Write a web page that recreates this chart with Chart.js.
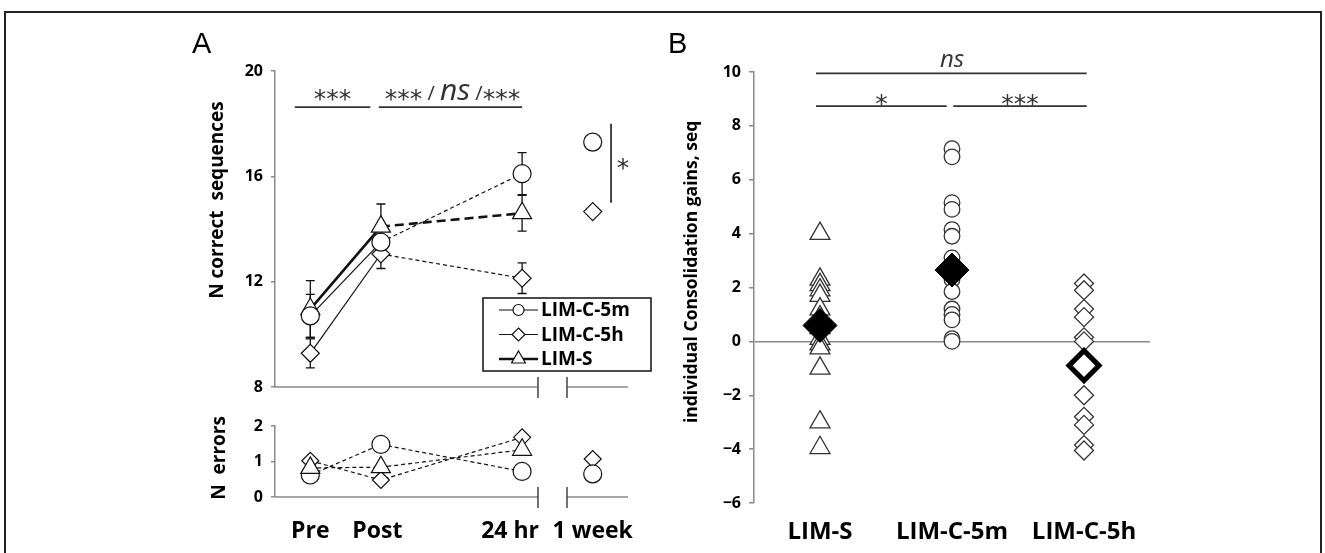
<!DOCTYPE html>
<html><head><meta charset="utf-8">
<script src="https://cdn.jsdelivr.net/npm/chart.js@4.4.1/dist/chart.umd.min.js"></script>
<style>
html,body{margin:0;padding:0;background:#fff;}
#wrap{position:relative;width:1325px;height:553px;overflow:hidden;background:#fff;}
#wrap canvas{position:absolute;left:0;top:0;}
#frame{position:absolute;left:4px;top:11px;width:1318px;height:560px;border:2px solid #222;box-sizing:border-box;}
</style></head><body>
<div id="wrap">
<div id="frame"></div>
<canvas id="cA" width="1325" height="553"></canvas>
<canvas id="cE" width="1325" height="553"></canvas>
<canvas id="cB" width="1325" height="553"></canvas>
</div>
<script>
// ---------------- DATA ----------------
const timepoints = ['Pre', 'Post', '24 hr', '1 week'];
const timeX = [1, 2, 4, 5];
const timeLabelX = [1, 1.95, 3.83, 5];
// Panel A top: N correct sequences (Pre, Post, 24 hr)
const seqC5m = [10.7, 13.5, 16.1];
const seqC5h = [9.28, 13.05, 12.13];
const seqS   = [10.96, 14.09, 14.6];
const seqSemC5m = [0.82, 0.6, 0.8];
const seqSemC5h = [0.55, 0.55, 0.58];
const seqSemS   = [1.08, 0.86, 0.68];
const weekSeqC5m = [17.3];
const weekSeqC5h = [14.66];
// Panel A bottom: N errors
const errC5m = [0.62, 1.48, 0.72];
const errC5h = [1.02, 0.48, 1.68];
const errS   = [0.82, 0.84, 1.33];
const weekErrC5m = [0.65];
const weekErrC5h = [1.07];
// Panel B: individual consolidation gains
const groups = ['LIM-S', 'LIM-C-5m', 'LIM-C-5h'];
const gainsS   = [4.0, 2.3, 2.1, 1.9, 1.7, 1.2, 0.9, 0.5, 0.1, -0.1, -0.25, -1.0, -3.0, -3.95];
const gainsC5m = [7.15, 6.85, 5.15, 4.9, 4.15, 3.9, 3.1, 2.3, 1.85, 1.2, 1.0, 0.8, 0.1, 0.0];
const gainsC5h = [2.15, 1.9, 1.2, 0.9, 0.15, 0.0, -2.0, -2.8, -3.1, -3.85, -4.05];
const meanGains = [0.59, 2.65, -0.9];

// ---------------- STYLE ----------------
const FONT = "'Open Sans', sans-serif";
const GRAY = '#8a8a8a';
const INK = '#111';
const MK = '#333';

function yAxis(min, max, step, width, extra) {
  return Object.assign({
    min, max,
    ticks: {stepSize: step, color: '#000', font: {family: FONT, size: 16, weight: 'bold'}, padding: 8},
    grid: {drawOnChartArea: false, drawTicks: true, tickLength: 4, color: GRAY, tickColor: GRAY, lineWidth: 1.5},
    border: {display: true, color: GRAY, width: 1.5},
    title: {display: false},
    afterFit: s => { s.width = width; }
  }, extra || {});
}

// rotated axis title drawn at a scale value
function axisTitle(text, px, value, size) {
  return {
    id: 'title_' + text.replace(/\W/g, ''),
    afterDraw(chart) {
      const {ctx, scales: {y}} = chart;
      ctx.save();
      ctx.translate(px, y.getPixelForValue(value));
      ctx.rotate(-Math.PI / 2);
      ctx.fillStyle = '#000'; ctx.textAlign = 'center'; ctx.textBaseline = 'middle';
      ctx.font = 'bold ' + size + 'px ' + FONT;
      ctx.fillText(text, 0, 0);
      ctx.restore();
    }
  };
}

function markPath(ctx, style, x, y, r) {
  ctx.beginPath();
  if (style === 'circle') ctx.arc(x, y, r, 0, Math.PI * 2);
  else if (style === 'rectRot') { ctx.moveTo(x, y - r); ctx.lineTo(x + r, y); ctx.lineTo(x, y + r); ctx.lineTo(x - r, y); ctx.closePath(); }
  else if (style === 'triangle') { const h = r * 0.866; ctx.moveTo(x, y - r); ctx.lineTo(x + h, y + r / 2); ctx.lineTo(x - h, y + r / 2); ctx.closePath(); }
}

// broken x axis
const brokenAxis = {
  id: 'brokenAxis',
  afterDraw(chart) {
    const {ctx, chartArea: ca, scales: {x}} = chart;
    const b1 = x.getPixelForValue(4.225), b2 = x.getPixelForValue(4.636);
    const yb = ca.bottom;
    ctx.save();
    ctx.strokeStyle = GRAY; ctx.lineWidth = 1.5;
    ctx.beginPath(); ctx.moveTo(ca.left, yb); ctx.lineTo(b1, yb); ctx.moveTo(b2, yb); ctx.lineTo(ca.right, yb); ctx.stroke();
    ctx.strokeStyle = '#444'; ctx.lineWidth = 1.5;
    ctx.beginPath(); ctx.moveTo(b1, yb - 10); ctx.lineTo(b1, yb + 11); ctx.moveTo(b2, yb - 10); ctx.lineTo(b2, yb + 11); ctx.stroke();
    ctx.restore();
  }
};

// error bars (panel A top)
const errorBars = {
  id: 'errorBars',
  beforeDatasetsDraw(chart) {
    const {ctx, scales: {x, y}} = chart;
    const sets = [[seqC5m, seqSemC5m], [seqC5h, seqSemC5h], [seqS, seqSemS]];
    ctx.save(); ctx.strokeStyle = INK; ctx.lineWidth = 1.3;
    sets.forEach(([m, e]) => m.forEach((v, i) => {
      const px = x.getPixelForValue(timeX[i]);
      const t = y.getPixelForValue(v + e[i]), b = y.getPixelForValue(v - e[i]);
      ctx.beginPath();
      ctx.moveTo(px, t); ctx.lineTo(px, b);
      ctx.moveTo(px - 4.5, t); ctx.lineTo(px + 4.5, t);
      ctx.moveTo(px - 4.5, b); ctx.lineTo(px + 4.5, b);
      ctx.stroke();
    }));
    ctx.restore();
  }
};

function drawMixed(ctx, pieces, cx, baseline) {
  let total = 0;
  pieces.forEach(p => { ctx.font = p.font; p.w = ctx.measureText(p.t).width; total += p.w; });
  let x = cx - total / 2;
  pieces.forEach(p => { ctx.font = p.font; ctx.fillText(p.t, x, baseline + (p.dy || 0)); x += p.w; });
}

const STAR = "25px 'DejaVu Sans', sans-serif";
const SLASH = "20px " + FONT;

// annotations panel A
const annotA = {
  id: 'annotA',
  afterDraw(chart) {
    const {ctx, scales: {x, y}} = chart;
    ctx.save();
    ctx.fillStyle = '#000'; ctx.textBaseline = 'alphabetic'; ctx.textAlign = 'left';
    ctx.font = "29px 'Liberation Sans', Arial, sans-serif";
    ctx.fillText('A', 192, 53);
    // significance bars
    ctx.strokeStyle = '#333'; ctx.lineWidth = 1.8;
    const ly = y.getPixelForValue(18.63);
    ctx.beginPath();
    ctx.moveTo(x.getPixelForValue(0.78), ly); ctx.lineTo(x.getPixelForValue(1.85), ly);
    ctx.moveTo(x.getPixelForValue(1.97), ly); ctx.lineTo(x.getPixelForValue(4.0), ly);
    ctx.moveTo(x.getPixelForValue(5.26), y.getPixelForValue(18.0)); ctx.lineTo(x.getPixelForValue(5.26), y.getPixelForValue(15.0));
    ctx.stroke();
    ctx.fillStyle = '#333';
    const nsF = "italic 30px " + FONT;
    drawMixed(ctx, [{t: '***', font: STAR, dy: 8}], (x.getPixelForValue(0.78) + x.getPixelForValue(1.85)) / 2, ly - 8);
    drawMixed(ctx, [{t: '***', font: STAR, dy: 7}, {t: ' / ', font: SLASH}, {t: 'ns', font: nsF}, {t: ' /', font: SLASH}, {t: '***', font: STAR, dy: 7}],
      (x.getPixelForValue(1.97) + x.getPixelForValue(4.0)) / 2 + 2, ly - 7);
    drawMixed(ctx, [{t: '*', font: STAR}], x.getPixelForValue(5.26) + 12, y.getPixelForValue(16.55) + 14);
    // legend
    const x0 = 483, y0 = 298, w = 168, h = 73;
    ctx.fillStyle = '#fff'; ctx.fillRect(x0, y0, w, h);
    ctx.strokeStyle = INK; ctx.lineWidth = 1.5; ctx.strokeRect(x0, y0, w, h);
    const items = chart.data.datasets.filter(d => d.legend);
    items.forEach((d, i) => {
      const cy = y0 + 12 + i * 24.5;
      ctx.strokeStyle = INK; ctx.lineWidth = d.borderWidth;
      ctx.beginPath(); ctx.moveTo(499, cy); ctx.lineTo(538, cy); ctx.stroke();
      ctx.fillStyle = '#fff'; ctx.lineWidth = 1.2; ctx.strokeStyle = INK;
      markPath(ctx, d.pointStyle, 518.5, cy, d.pointStyle === 'triangle' ? 8 : (d.pointStyle === 'circle' ? 5.5 : 6.5));
      ctx.fill(); ctx.stroke();
      ctx.fillStyle = '#000'; ctx.font = "bold 19px " + FONT; ctx.textBaseline = 'middle';
      ctx.fillText(d.label, 541, cy + 1);
    });
    ctx.restore();
  }
};

// annotations panel B
const annotB = {
  id: 'annotB',
  afterDraw(chart) {
    const {ctx, scales: {x, y}} = chart;
    ctx.save();
    ctx.fillStyle = '#000'; ctx.textBaseline = 'alphabetic'; ctx.textAlign = 'left';
    ctx.font = "29px 'Liberation Sans', Arial, sans-serif";
    ctx.fillText('B', 668, 53);
    ctx.strokeStyle = '#333'; ctx.lineWidth = 1.8;
    const y1 = y.getPixelForValue(9.95), y2 = y.getPixelForValue(8.73);
    const a = x.getPixelForValue(-0.03), bL = x.getPixelForValue(0.96), bR = x.getPixelForValue(1.01), c = x.getPixelForValue(2.02);
    ctx.beginPath();
    ctx.moveTo(a, y1); ctx.lineTo(c, y1);
    ctx.moveTo(a, y2); ctx.lineTo(bL, y2);
    ctx.moveTo(bR, y2); ctx.lineTo(c, y2);
    ctx.stroke();
    ctx.fillStyle = '#333';
    drawMixed(ctx, [{t: 'ns', font: "italic 24px " + FONT}], x.getPixelForValue(1), y1 - 6);
    drawMixed(ctx, [{t: '*', font: STAR}], (a + bL) / 2, y2 + 6);
    drawMixed(ctx, [{t: '***', font: STAR}], (bR + c) / 2, y2 + 6);
    ctx.restore();
  }
};

const common = {
  responsive: false, animation: false, events: [], devicePixelRatio: 1,
  plugins: {legend: {display: false}, tooltip: {enabled: false}}
};

function lineSet(label, data, style, r, width, dash, legend) {
  return {
    label, legend, data: data.map((v, i) => ({x: timeX[i], y: v})),
    showLine: true, borderColor: INK, borderWidth: width,
    pointStyle: style, pointRadius: r, pointBorderWidth: 1.2, pointBorderColor: INK, pointBackgroundColor: '#fff',
    segment: {borderDash: ctx => ctx.p0DataIndex >= 1 ? dash : []},
    clip: false
  };
}
function weekSet(data, style, r) {
  return {data: data.map(v => ({x: timeX[3], y: v})), showLine: false, pointStyle: style, pointRadius: r,
    pointBorderWidth: 1.2, pointBorderColor: INK, pointBackgroundColor: '#fff', clip: false};
}

// ---------- Panel A top ----------
new Chart(document.getElementById('cA'), {
  type: 'scatter',
  data: {datasets: [
    lineSet('LIM-C-5m', seqC5m, 'circle', 9, 1.2, [4, 3], true),
    lineSet('LIM-C-5h', seqC5h, 'rectRot', 9, 1.2, [4, 3], true),
    lineSet('LIM-S', seqS, 'triangle', 11, 2.6, [9, 5], true),
    weekSet(weekSeqC5m, 'circle', 9),
    weekSet(weekSeqC5h, 'rectRot', 9)
  ]},
  options: Object.assign({}, common, {
    layout: {padding: {left: 200, top: 71, right: 697, bottom: 166}},
    scales: {
      x: {type: 'linear', min: 0.5, max: 5.5, display: false},
      y: yAxis(8, 20, 4, 75)
    }
  }),
  plugins: [errorBars, brokenAxis, annotA, axisTitle('N correct  sequences', 218, 15.1, 19)]
});

// ---------- Panel A bottom (errors) ----------
function errSet(data, style, r) {
  const d = lineSet('', data, style, r, 1.2, [4, 3], false);
  d.segment = {borderDash: [4, 3]};
  return d;
}
new Chart(document.getElementById('cE'), {
  type: 'scatter',
  data: {datasets: [
    errSet(errS, 'triangle', 11),
    errSet(errC5h, 'rectRot', 8.5),
    errSet(errC5m, 'circle', 9),
    weekSet(weekErrC5m, 'circle', 9),
    weekSet(weekErrC5h, 'rectRot', 8.5)
  ]},
  options: Object.assign({}, common, {
    layout: {padding: {left: 200, top: 426, right: 697, bottom: 0}},
    scales: {
      x: {
        type: 'linear', min: 0.5, max: 5.5,
        afterBuildTicks: s => { s.ticks = timeLabelX.map(v => ({value: v})); },
        afterFit: s => { s.height = 56; },
        ticks: {autoSkip: false, maxRotation: 0, minRotation: 0, color: '#000', padding: 21,
          font: {family: FONT, size: 23, weight: 'bold'},
          callback: (v, i) => timepoints[i]},
        grid: {display: false, drawTicks: false},
        border: {display: false}
      },
      y: yAxis(0, 2, 1, 75)
    }
  }),
  plugins: [brokenAxis, axisTitle('N  errors', 220, 1.1, 19)]
});

// ---------- Panel B ----------
function gainSet(vals, gi, style, r) {
  return {data: vals.map(v => ({x: groups[gi], y: v})), showLine: false, pointStyle: style, pointRadius: r,
    pointBorderWidth: 1.3, pointBorderColor: MK, pointBackgroundColor: '#fff', order: 1};
}
new Chart(document.getElementById('cB'), {
  type: 'line',
  data: {labels: groups, datasets: [
    {data: [{x: groups[0], y: meanGains[0]}, {x: groups[1], y: meanGains[1]}], showLine: false, pointStyle: 'rectRot',
      pointRadius: 17, pointBorderWidth: 1, pointBorderColor: '#000', pointBackgroundColor: '#000', order: 0},
    {data: [{x: groups[2], y: meanGains[2]}], showLine: false, pointStyle: 'rectRot',
      pointRadius: 15, pointBorderWidth: 5, pointBorderColor: '#000', pointBackgroundColor: '#fff', order: 0},
    gainSet(gainsS, 0, 'triangle', 11.5),
    gainSet(gainsC5m, 1, 'circle', 7.8),
    gainSet(gainsC5h, 2, 'rectRot', 9.5)
  ]},
  options: Object.assign({}, common, {
    layout: {padding: {left: 654, top: 72, right: 175, bottom: 0}},
    scales: {
      x: {
        type: 'category', offset: true,
        afterFit: s => { s.height = 50; },
        ticks: {autoSkip: false, maxRotation: 0, minRotation: 0, color: '#000', padding: 15,
          font: {family: FONT, size: 24, weight: 'bold'}},
        grid: {display: false, drawTicks: false},
        border: {display: false}
      },
      y: yAxis(-6, 10, 2, 100, {ticks: {stepSize: 2, color: '#000', font: {family: FONT, size: 16, weight: 'bold'}, padding: 8,
        callback: v => String(v).replace('-', '\u2212')},
        grid: {drawOnChartArea: true, drawTicks: true, tickLength: 5, tickColor: GRAY, lineWidth: 1.5,
          color: c => (c.tick && c.tick.value === 0) ? GRAY : 'rgba(0,0,0,0)'}})
    }
  }),
  plugins: [annotB, axisTitle('individual Consolidation gains, seq', 692, 2.58, 17.5)]
});
</script>
</body></html>
